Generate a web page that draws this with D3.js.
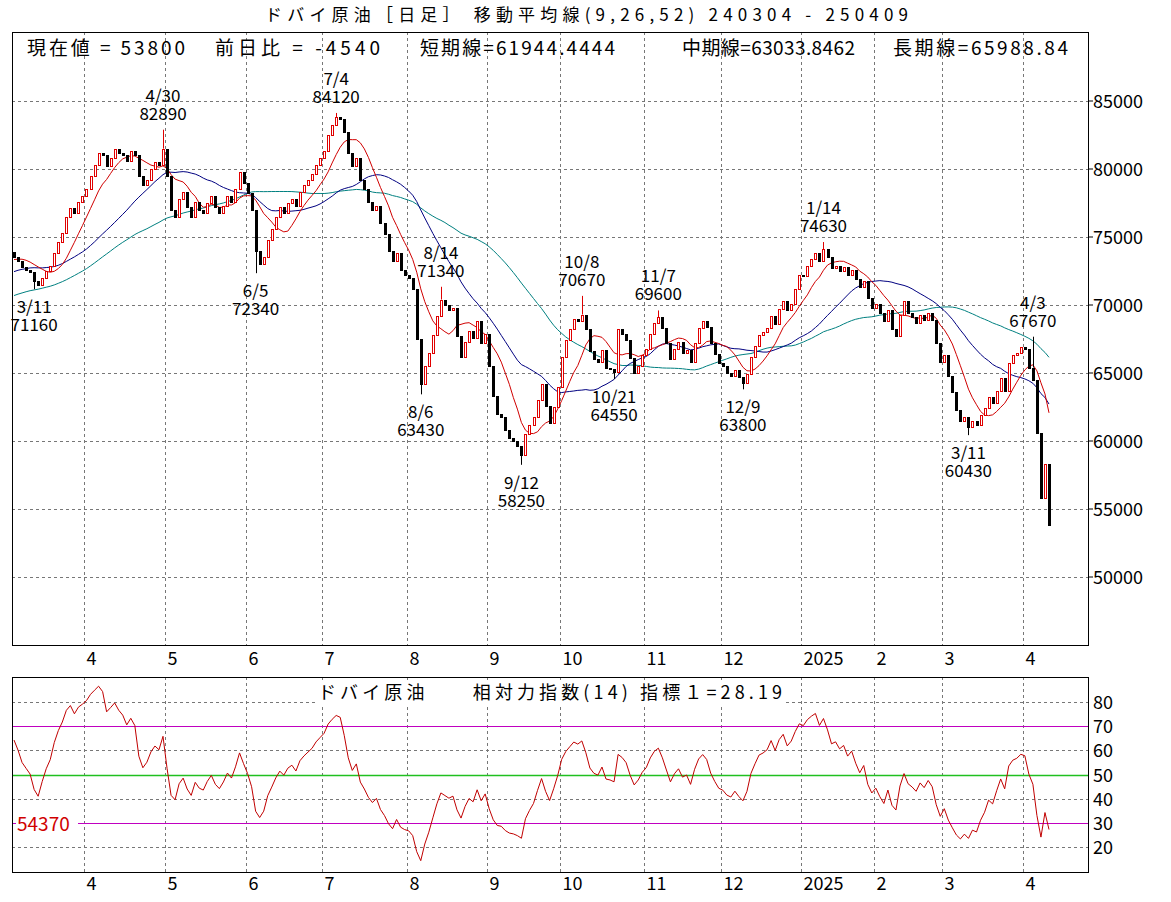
<!DOCTYPE html>
<html><head><meta charset="utf-8">
<script src="https://cdn.jsdelivr.net/npm/d3@7"></script>
<style>body{margin:0;background:#fff}text{font-family:"Noto Sans CJK JP",sans-serif;fill:#000}</style>
</head><body><svg id="c" width="1171" height="902"></svg>
<script>
// warm-up closes (Jan-Feb 2024) used only for the moving averages / RSI
const prior = [67500,67800,68200,68000,68400,68900,68600,68300,68700,69100,68800,68500,68900,69300,69000,68700,69100,69500,69200,68800,69200,69600,69300,69000,69400,69800,
  70200,70600,71000,71300,71000,71400,71800,72100,71800,72200,72500,72300,72000,72400,72700,72500,72900,73200,73000,72800,73300,73600,73400,73100,73500,73900];
// daily closes per month, 2024-03 .. 2025-04
const mar24 = [73500,73200,72800,72600,72400,71800,71500,72000,72500,72900,73800,74600,75300,76500,77100,76800,77600,78000];
const apr24 = [78500,79500,80300,81200,81000,80200,80800,81500,81200,81000,80600,81300,81000,79500,78800,79200,80000,80500,80300,81500];
const may24 = [79500,77000,76500,77800,78300,77200,76500,77600,77000,76800,77500,78000,77200,76800,77300,78000,77600,78500,79800,79000];
const jun24 = [78200,77000,74000,73000,73500,74800,75600,76500,77200,76800,77500,77800,77300,78300,78800,79200,79600,80300,80800];
const jul24 = [81300,82500,83200,83800,83700,82700,81200,80200,80800,79200,78500,77600,77000,77300,76000,75200,74000,73200,73800,72600,72200];
const aug24 = [72000,71200,67500,64200,65500,66500,67800,69200,70400,70000,69600,69800,67700,66200,67300,68100,67600,68800,67200,67900];
const sep24 = [65500,63300,62000,61800,60800,60200,60000,59600,59000,60500,61200,61800,63000,64200,62600,61300,62500,64000];
const oct24 = [66200,67400,68200,69000,68800,69300,68200,66600,66000,65800,66700,65400,65300,65100,68200,67900,67400,66100,65000,65500,66300];
const nov24 = [66800,67900,68700,69100,68300,67200,66000,66800,67300,66500,66700,65800,67200,68300,68800,68400,67200,66400,65700];
const dec24 = [65500,65000,64800,65200,64700,64300,64900,66200,67000,67800,68000,68300,69200,68600,69700,70300,69600,70100,71200,72200];
const jan25 = [72100,72900,73400,73800,73200,74100,73500,72700,72900,72500,72800,72200,72600,71900,71300,71800,70500,69800];
const feb25 = [70100,69400,68800,69600,68200,67700,69300,70300,69400,69100,68700,69300,68900,69400,68900,67200,65800];
const mar25 = [66300,64800,63600,62300,61500,61800,61000,61500,61200,61900,62400,63200,62800,63700,64600,63700,65700,66300,66500,66900];
const apr25 = [66800,65400,64500,60600,55800,58340,53800];
const months = [mar24,apr24,may24,jun24,jul24,aug24,sep24,oct24,nov24,dec24,jan25,feb25,mar25,apr25];
const monthLabels = ["","4","5","6","7","8","9","10","11","12","2025","2","3","4"];
const priceTicks = [85000,80000,75000,70000,65000,60000,55000,50000];
const rsiTicks = [80,70,60,50,40,30,20];
// marked highs/lows: [month index, trading day in month, value, date, above?]
const marks = [[0,5,71160,"3/11",false],[1,19,82890,"4/30",true],[3,2,72340,"6/5",false],[4,3,84120,"7/4",true],
  [5,3,63430,"8/6",false],[5,8,71340,"8/14",true],[6,8,58250,"9/12",false],[7,5,70670,"10/8",true],[7,13,64550,"10/21",false],
  [8,3,69600,"11/7",true],[9,5,63800,"12/9",false],[10,5,74630,"1/14",true],[12,6,60430,"3/11",false],[13,2,67670,"4/3",true]];

const closes = months.flat();
const all = prior.concat(closes);
const P = prior.length, n = closes.length;
const starts = []; let acc = 0; months.forEach(m => { starts.push(acc); acc += m.length; });

function sma(k){ return closes.map((c,i) => d3.mean(all.slice(P+i-k+1, P+i+1))); }
const ma9 = sma(9), ma26 = sma(26), ma52 = sma(52);
// RSI(14), Wilder
const rsiAll = []; let ag = 0, al = 0;
for (let i = 1; i < all.length; i++) {
  const d = all[i]-all[i-1], gain = Math.max(d,0), loss = Math.max(-d,0);
  if (i <= 14) { ag += gain/14; al += loss/14; } else { ag = (ag*13+gain)/14; al = (al*13+loss)/14; }
  rsiAll[i] = 100 - 100/(1+ag/al);
}
const rsi = closes.map((c,i) => rsiAll[P+i]);

const svg = d3.select("#c");
const L = 12, R = 1088, T1 = 32, B1 = 645, T2 = 677, B2 = 872;
const x = d3.scaleLinear().domain([0,n-1]).range([14,1049]);
const y = d3.scaleLinear().domain([85000,50000]).range([101,577]);
const yr = d3.scaleLinear().domain([80,20]).range([702,847]);
const dash = "3,3";

// grids
starts.slice(1).forEach((s,j) => {
  const gx = Math.round(x(s)-2)+0.5;
  [[T1,B1],[T2,B2]].forEach(([a,b]) => svg.append("line").attr("x1",gx).attr("x2",gx).attr("y1",a).attr("y2",b).attr("stroke","#777").attr("stroke-dasharray",dash));
  [665,890].forEach(ty => svg.append("text").attr("x",gx+2).attr("y",ty).attr("font-size",18).text(monthLabels[j+1]));
});
priceTicks.forEach(v => {
  svg.append("line").attr("x1",L).attr("x2",R).attr("y1",Math.round(y(v))+0.5).attr("y2",Math.round(y(v))+0.5).attr("stroke","#777").attr("stroke-dasharray",dash);
  svg.append("line").attr("x1",R).attr("x2",R+5).attr("y1",y(v)).attr("y2",y(v)).attr("stroke","#000");
  svg.append("text").attr("x",1093).attr("y",y(v)+7).attr("font-size",18).text(v);
});
rsiTicks.forEach(v => {
  const c = v===70||v===30 ? "#c000c0" : v===50 ? "#20c020" : "#777";
  svg.append("line").attr("x1",L).attr("x2",R).attr("y1",Math.round(yr(v))+0.5).attr("y2",Math.round(yr(v))+0.5)
    .attr("stroke",c).attr("stroke-width", v===50?1.5:1).attr("stroke-dasharray", c==="#777"?dash:null);
  svg.append("text").attr("x",1093).attr("y",yr(v)+7).attr("font-size",18).text(v);
});

// moving averages under the candles
const line = yy => d3.line().x((d,i) => x(i)).y(d => yy(d));
[[ma52,"#008080"],[ma26,"#000080"],[ma9,"#d00000"]].forEach(([s,c]) =>
  svg.append("path").attr("d",line(y)(s)).attr("fill","none").attr("stroke",c).attr("stroke-width",1));

// candles: rising = hollow red, falling = solid black
const cg = svg.append("g");
closes.forEach((c,i) => {
  const o = i ? closes[i-1] : all[P-1], up = c >= o, cx = Math.round(x(i));
  const top = Math.round(y(Math.max(o,c))), bot = Math.round(y(Math.min(o,c)));
  cg.append("rect").attr("x",cx-0.5).attr("y",top+0.5).attr("width",2).attr("height",Math.max(bot-top,1))
    .style("fill",up?"#ffffff":"#000000").style("stroke",up?"#e00000":"#000000").style("stroke-width",1);
});
marks.forEach(([m,k,v,lab,above]) => {
  const i = starts[m]+k, c = closes[i], o = i ? closes[i-1] : c, cx = Math.round(x(i))+0.5;
  const edge = above ? y(Math.max(o,c)) : y(Math.min(o,c));
  cg.append("line").attr("x1",cx).attr("x2",cx).attr("y1",edge).attr("y2",y(v)).style("stroke", c>=o?"#e00000":"#000");
  const tx = Math.max(x(i), 30), ty = above ? y(v)-28 : y(v)+24;
  svg.append("text").attr("x",tx).attr("y",ty).attr("text-anchor","middle").attr("font-size",17).text(lab);
  svg.append("text").attr("x",tx).attr("y",ty+18).attr("text-anchor","middle").attr("font-size",17).text(v);
});
svg.append("path").attr("d",line(yr)(rsi)).attr("fill","none").attr("stroke","#c00000").attr("stroke-width",1);

// labels
svg.append("rect").attr("x",16).attr("y",812).attr("width",62).attr("height",22).attr("fill","#fff");
svg.append("text").attr("x",17).attr("y",831).attr("font-size",19).style("fill","#d00000").text("54370");
svg.append("rect").attr("x",315).attr("y",680).attr("width",470).attr("height",24).attr("fill","#fff");
svg.append("text").attr("x",318).attr("y",699).attr("font-size",18).attr("textLength",464).text("ドバイ原油　　相対力指数(14) 指標１=28.19");
svg.append("text").attr("x",265).attr("y",21).attr("font-size",17).attr("textLength",643).text("ドバイ原油［日足］ 移動平均線(9,26,52)  240304 - 250409");
[[27,"現在値 = 53800",158],[215,"前日比 = -4540",165],[420,"短期線=61944.4444",195],[682,"中期線=63033.8462",173],[893,"長期線=65988.84",175]]
  .forEach(([tx,t,w]) => svg.append("text").attr("x",tx).attr("y",55).attr("font-size",19).attr("textLength",w).text(t));

// frames
[[T1,B1],[T2,B2]].forEach(([a,b]) => svg.append("rect").attr("x",L+0.5).attr("y",a+0.5).attr("width",R-L).attr("height",b-a).attr("fill","none").attr("stroke","#000"));
</script></body></html>
